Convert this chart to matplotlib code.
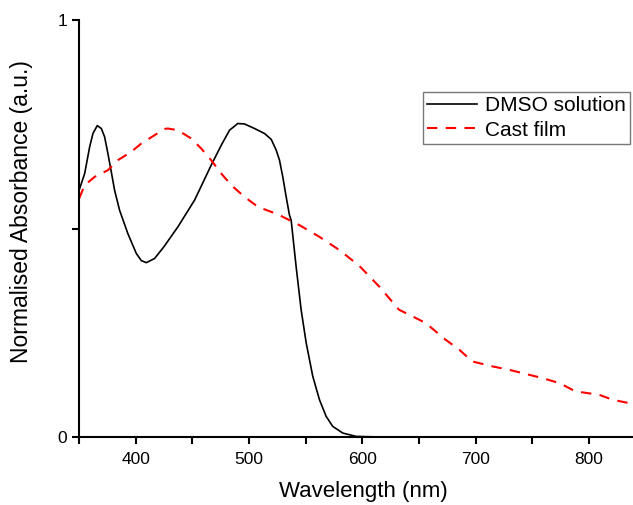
import matplotlib
matplotlib.use('Agg')
import matplotlib.pyplot as plt
from matplotlib.ticker import MultipleLocator

plt.rcParams['font.family'] = ['Liberation Sans', 'DejaVu Sans']

# DMSO solution
dmso_wl = [350, 354.9, 359.3, 362.2, 366, 369.6, 372.5, 375.4, 378.4, 381.3,
           385.7, 393, 400.5, 404.9, 409.3, 416.6, 424.8, 437.2, 451.9, 466.6,
           475.5, 482.8, 490.1, 496, 504.9, 513.7, 519.6, 524, 526.9, 529.8,
           532.8, 535.7, 537.2, 541.6, 546, 550.5, 556.3, 562.2, 568.1, 573.9,
           582.8, 594.6, 610]
dmso_abs = [0.592, 0.632, 0.696, 0.728, 0.747, 0.740, 0.720, 0.680, 0.636, 0.592,
            0.544, 0.488, 0.440, 0.423, 0.418, 0.428, 0.456, 0.504, 0.568, 0.652,
            0.700, 0.736, 0.752, 0.751, 0.740, 0.728, 0.714, 0.688, 0.664, 0.624,
            0.576, 0.532, 0.520, 0.408, 0.305, 0.225, 0.145, 0.089, 0.049, 0.025,
            0.009, 0.001, 0.0]

# Cast film
film_wl = [350, 354.9, 363.7, 375.4, 384.2, 396, 404.9, 416.6, 425.4, 428.4,
           437.2, 449, 457.8, 466.6, 475.5, 484.3, 496, 507.8, 519.6, 526.9,
           544.6, 562.2, 579.9, 597.5, 615.2, 632.4, 644.5, 656, 673.6, 685.7,
           697, 715, 729.5, 759, 774, 788.3, 809, 821, 835.4, 840]
film_abs = [0.572, 0.604, 0.624, 0.640, 0.664, 0.684, 0.704, 0.724, 0.739, 0.740,
            0.736, 0.716, 0.692, 0.664, 0.632, 0.604, 0.576, 0.552, 0.540, 0.532,
            0.508, 0.480, 0.448, 0.410, 0.360, 0.305, 0.289, 0.273, 0.233, 0.209,
            0.181, 0.169, 0.161, 0.141, 0.129, 0.109, 0.101, 0.089, 0.081, 0.079]

fig = plt.figure(figsize=(6.33, 5.05), dpi=100)
ax = fig.add_axes([0.125, 0.135, 0.875, 0.825])

ax.plot(dmso_wl, dmso_abs, color='black', lw=1.2, label='DMSO solution')
ax.plot(film_wl, film_abs, color='red', lw=1.5, ls=(0, (5, 4)), label='Cast film')

ax.set_xlim(350, 839)
ax.set_ylim(0, 1)
ax.spines['top'].set_visible(False)
ax.spines['right'].set_visible(False)
ax.spines['left'].set_linewidth(1.5)
ax.spines['bottom'].set_linewidth(1.5)

ax.xaxis.set_major_locator(MultipleLocator(100))
ax.xaxis.set_minor_locator(MultipleLocator(50))
ax.set_yticks([0, 1])
ax.set_yticks([0.5], minor=True)
ax.tick_params(which='both', direction='out', width=1.5, length=5, labelsize=12.5)
ax.tick_params(axis='x', pad=6)

ax.set_xlabel('Wavelength (nm)', fontsize=16)
ax.set_ylabel('Normalised Absorbance (a.u.)', fontsize=16.5)
ax.xaxis.set_label_coords(0.513, -0.105)
ax.yaxis.set_label_coords(-0.083, 0.54)

leg = ax.legend(loc='upper left', bbox_to_anchor=(0.621, 0.827), fontsize=15,
                frameon=True, fancybox=False, handlelength=2.4, handletextpad=0.35,
                borderpad=0.2, labelspacing=0.25, borderaxespad=0)
leg.get_frame().set_edgecolor('#555555')
leg.get_frame().set_linewidth(1.0)

plt.savefig('out.png', dpi=100)
